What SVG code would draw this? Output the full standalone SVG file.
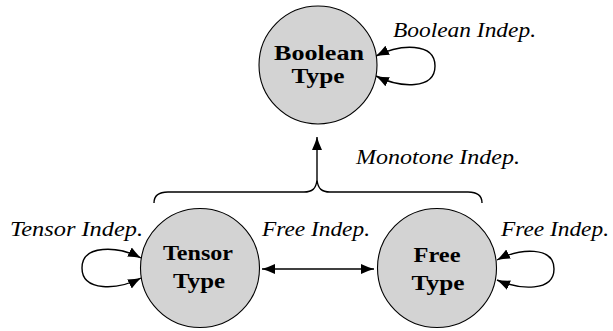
<svg xmlns="http://www.w3.org/2000/svg" width="613" height="331" viewBox="0 0 613 331">
<style>
.node{fill:#d3d3d3;stroke:#000;stroke-width:1.1}
.nt{font-family:'Liberation Serif','DejaVu Serif','Times New Roman',serif;font-weight:bold;font-size:22px;text-anchor:middle;fill:#000}
.nb{font-size:20px}
.lbl{font-family:'Liberation Serif','DejaVu Serif','Times New Roman',serif;font-style:italic;font-size:20px;fill:#000}
.edge{fill:none;stroke:#000;stroke-width:1.4}
</style>
<defs>
<marker id="ah" markerUnits="userSpaceOnUse" markerWidth="14" markerHeight="12" viewBox="0 0 14 12" refX="13" refY="6" orient="auto-start-reverse">
<path d="M0,1 Q7,4.3 13,6 Q7,7.7 0,11 Z" fill="#000"/>
</marker>
</defs>
<rect width="613" height="331" fill="#fff"/>
<g id="connectors">
<path class="edge" d="M376,56 C400,44 435,42 435,66 C435,90 400,88 376,76" marker-start="url(#ah)" marker-end="url(#ah)"/>
<path class="edge" d="M141,258 C118,246 82,244 82,268 C82,292 118,290 141,278" marker-start="url(#ah)" marker-end="url(#ah)"/>
<path class="edge" d="M497,260 C520,248 554,246 554,269 C554,292 520,290 497,280" marker-start="url(#ah)" marker-end="url(#ah)"/>
<path class="edge" d="M262,269 L374,269" marker-start="url(#ah)" marker-end="url(#ah)"/>
<path class="edge" d="M154,203 C154,196 158,192 168,192 L304,192 C312,192 316,189 317,180 C318,189 322,192 330,192 L468,192 C478,192 482,196 482,203"/>
<path class="edge" d="M317,180 L317,137" marker-end="url(#ah)"/>
</g>
<g id="boolean">
<circle class="node" cx="318" cy="65" r="59"/>
<text class="nt nb" x="319" y="60" textLength="90" lengthAdjust="spacingAndGlyphs">Boolean</text>
<text class="nt nb" x="318" y="83" textLength="53" lengthAdjust="spacingAndGlyphs">Type</text>
</g>
<g id="tensor">
<circle class="node" cx="200" cy="268" r="59.5"/>
<text class="nt" x="198" y="260" textLength="70" lengthAdjust="spacingAndGlyphs">Tensor</text>
<text class="nt" x="199" y="288" textLength="52" lengthAdjust="spacingAndGlyphs">Type</text>
</g>
<g id="free">
<circle class="node" cx="437" cy="268" r="59.5"/>
<text class="nt" x="437" y="262" textLength="47" lengthAdjust="spacingAndGlyphs">Free</text>
<text class="nt" x="438" y="290" textLength="53" lengthAdjust="spacingAndGlyphs">Type</text>
</g>
<g id="labels">
<text class="lbl" x="393" y="37" textLength="143" lengthAdjust="spacingAndGlyphs">Boolean Indep.</text>
<text class="lbl" x="356" y="164" textLength="164" lengthAdjust="spacingAndGlyphs">Monotone Indep.</text>
<text class="lbl" x="10" y="236" textLength="133" lengthAdjust="spacingAndGlyphs">Tensor Indep.</text>
<text class="lbl" x="262" y="236" textLength="108" lengthAdjust="spacingAndGlyphs">Free Indep.</text>
<text class="lbl" x="501" y="236" textLength="108" lengthAdjust="spacingAndGlyphs">Free Indep.</text>
</g>
</svg>
